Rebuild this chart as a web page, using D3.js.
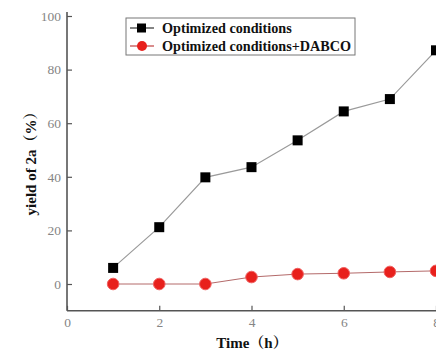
<!DOCTYPE html>
<html><head><meta charset="utf-8">
<script src="https://cdn.jsdelivr.net/npm/d3@7"></script>
<style>
body{margin:0;background:#fff;}
svg{display:block;}
</style></head>
<body>
<svg id="c" width="436" height="352"></svg>
<script>
const times = [1, 2, 3, 4, 5, 6, 7, 8];
const optimized = [6.0, 21.2, 39.8, 43.6, 53.6, 64.4, 69.0, 87.2];
const dabco = [0, 0, 0, 2.6, 3.7, 4.0, 4.5, 4.9];
const xTicks = [0, 2, 4, 6, 8];
const yTicks = [0, 20, 40, 60, 80, 100];
const seriesNames = ["Optimized conditions", "Optimized conditions+DABCO"];

const svg = d3.select("#c");
const serif = "'Liberation Serif','Times New Roman','Noto Serif CJK SC','Noto Sans CJK SC',serif";
const x = d3.scaleLinear().domain([0, 8]).range([67, 436]);
const y = d3.scaleLinear().domain([0, 100]).range([284, 16]);
const yBottom = y(-10);

// axes
const axisColor = "#555";
const xAxis = svg.append("g").attr("transform", `translate(0,${yBottom})`)
  .call(d3.axisBottom(x).tickValues(xTicks).tickSize(-5).tickPadding(7).tickFormat(d3.format("d")));
const yAxis = svg.append("g").attr("transform", `translate(${x(0)},0)`)
  .call(d3.axisLeft(y).tickValues(yTicks).tickSize(-5).tickPadding(6).tickFormat(d3.format("d")));
[xAxis, yAxis].forEach(a => {
  a.select(".domain").remove();
  a.selectAll(".tick line").attr("stroke", axisColor).attr("stroke-width", 1.2);
  a.selectAll(".tick text").attr("fill", "#858585").style("font-family", serif).style("font-size", "13.5px");
});
svg.append("line").attr("x1", x(0)).attr("x2", x(0)).attr("y1", 12).attr("y2", yBottom)
  .attr("stroke", axisColor).attr("stroke-width", 1.6);
svg.append("line").attr("x1", x(0)).attr("x2", 436).attr("y1", yBottom).attr("y2", yBottom)
  .attr("stroke", axisColor).attr("stroke-width", 1.6);

// lines
const line = (vals) => d3.line().x((d, i) => x(times[i])).y(d => y(d))(vals);
svg.append("path").attr("d", line(optimized)).attr("fill", "none").attr("stroke", "#9a9a9a").attr("stroke-width", 1.2);
svg.append("path").attr("d", line(dabco)).attr("fill", "none").attr("stroke", "#b46a6a").attr("stroke-width", 1);

// markers
svg.selectAll(".sq").data(optimized).enter().append("rect")
  .attr("x", (d, i) => x(times[i]) - 5).attr("y", d => y(d) - 5)
  .attr("width", 10).attr("height", 10).attr("fill", "#000");
svg.selectAll(".ci").data(dabco).enter().append("circle")
  .attr("cx", (d, i) => x(times[i])).attr("cy", d => y(d)).attr("r", 5.8)
  .attr("fill", "#e8201c").attr("stroke", "#f06060").attr("stroke-width", 1);

// legend
const lg = svg.append("g");
lg.append("rect").attr("x", 126).attr("y", 18).attr("width", 229).attr("height", 37)
  .attr("fill", "#fff").attr("stroke", "#777").attr("stroke-width", 1);
[0, 1].forEach(k => {
  const ly = 28 + k * 18;
  lg.append("line").attr("x1", 130).attr("x2", 154).attr("y1", ly).attr("y2", ly)
    .attr("stroke", k ? "#c04040" : "#333").attr("stroke-width", 1.2);
  if (k === 0) lg.append("rect").attr("x", 137).attr("y", ly - 4.5).attr("width", 9).attr("height", 9).attr("fill", "#000");
  else lg.append("circle").attr("cx", 142).attr("cy", ly).attr("r", 5).attr("fill", "#e8201c");
  lg.append("text").attr("x", 162).attr("y", ly + 5).text(seriesNames[k])
    .style("font-family", serif).style("font-weight", "bold").style("font-size", "14.2px").attr("fill", "#111");
});

// axis titles
svg.append("text").attr("x", 252).attr("y", 348).attr("text-anchor", "middle")
  .text("Time（h）").style("font-family", serif).style("font-weight", "bold").style("font-size", "15px").attr("fill", "#111");
svg.append("text").attr("transform", `translate(36,160) rotate(-90)`).attr("text-anchor", "middle")
  .text("yield of 2a（%）").style("font-family", serif).style("font-weight", "bold").style("font-size", "15px").attr("fill", "#111");
</script>
</body></html>
